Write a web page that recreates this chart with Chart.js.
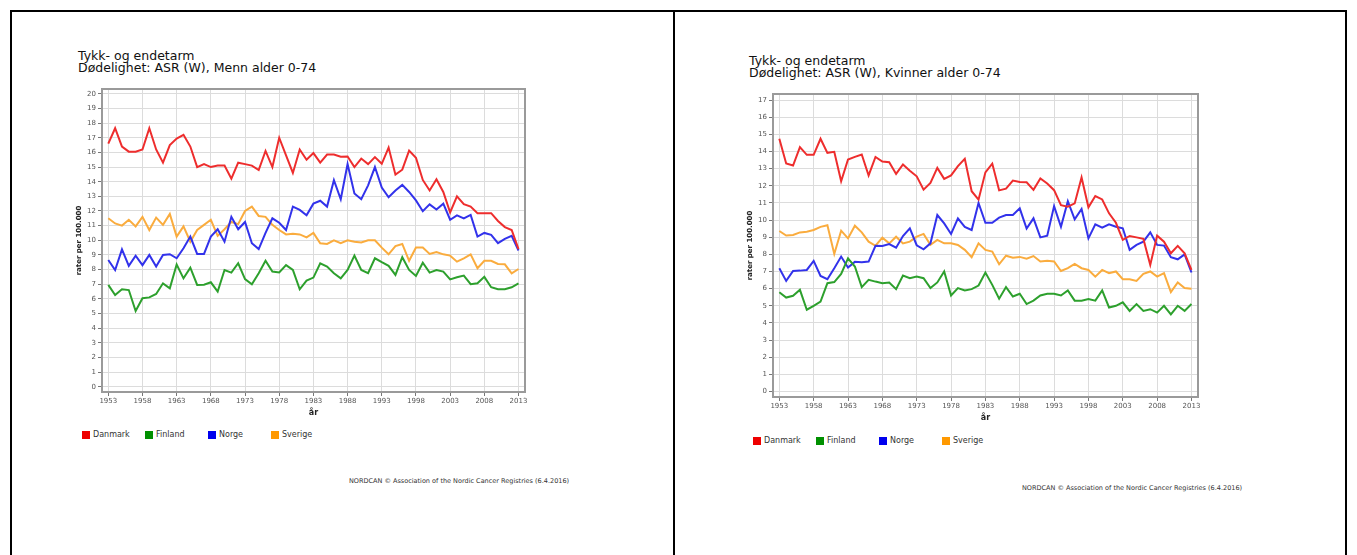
<!DOCTYPE html>
<html>
<head>
<meta charset="utf-8">
<script src="https://cdn.jsdelivr.net/npm/chart.js@4.4.1/dist/chart.umd.min.js"></script>
<style>
  html, body { margin: 0; padding: 0; background: #fff; }
  body { width: 1357px; height: 555px; position: relative; overflow: hidden; font-family: "DejaVu Sans", Verdana, sans-serif; }
  .frame { position: absolute; left: 10px; top: 10px; width: 1337px; height: 600px; border: 2px solid #000; box-sizing: border-box; }
  .divider { position: absolute; left: 673px; top: 10px; width: 2px; height: 600px; background: #000; }
  .title { position: absolute; font-size: 12.5px; line-height: 12px; color: #111; white-space: nowrap; }
  .legend { position: absolute; font-size: 8px; color: #333; white-space: nowrap; }
  .legend span.sw { position: absolute; width: 8px; height: 8px; }
  .legend span.tx { position: absolute; line-height: 8px; }
  .footer { position: absolute; font-size: 6.5px; color: #333; white-space: nowrap; line-height: 8px; }
  canvas { position: absolute; }
</style>
</head>
<body>
<div class="frame"></div>
<div class="divider"></div>

<div class="title" style="left:78px; top:50px;">Tykk- og endetarm<br>Dødelighet: ASR (W), Menn alder 0-74</div>
<div class="title" style="left:749px; top:55px;">Tykk- og endetarm<br>Dødelighet: ASR (W), Kvinner alder 0-74</div>

<canvas id="cMen" width="470" height="342" style="left:70px; top:80px;"></canvas>
<canvas id="cWomen" width="472" height="342" style="left:741px; top:85px;"></canvas>

<div id="legMen" class="legend" style="left:82px; top:431px;"></div>
<div id="legWomen" class="legend" style="left:753px; top:437px;"></div>

<div class="footer" style="left:349px; top:477px;">NORDCAN © Association of the Nordic Cancer Registries (6.4.2016)</div>
<div class="footer" style="left:1022px; top:484px;">NORDCAN © Association of the Nordic Cancer Registries (6.4.2016)</div>

<script>
// ---- Data ----
const years = [];
for (let y = 1953; y <= 2013; y++) years.push(y);

const countries = ["Danmark", "Finland", "Norge", "Sverige"];
const lineColors = ["rgb(238,45,45)", "rgb(45,160,45)", "rgb(50,50,235)", "rgb(250,172,62)"];
const swatchColors = ["#ee0000", "#009000", "#0000ee", "#ff9900"];

const xTicks = [1953, 1958, 1963, 1968, 1973, 1978, 1983, 1988, 1993, 1998, 2003, 2008, 2013];
const yTicksMen = [0,1,2,3,4,5,6,7,8,9,10,11,12,13,14,15,16,17,18,19,20];
const yTicksWomen = [0,1,2,3,4,5,6,7,8,9,10,11,12,13,14,15,16,17];

// Menn
const danmarkMen = [16.6,17.65,16.4,16.05,16.05,16.2,17.65,16.2,15.3,16.5,16.95,17.2,16.4,15.0,15.2,15.0,15.1,15.1,14.2,15.3,
  15.2,15.1,14.8,16.1,15.0,17.0,15.8,14.6,16.2,15.5,15.95,15.3,15.85,15.85,15.7,15.72,15.0,15.58,15.2,15.68,
  15.22,16.33,14.48,14.82,16.12,15.63,14.12,13.4,14.17,13.3,11.9,13.0,12.46,12.3,11.85,11.85,11.85,11.32,10.9,10.7,9.4];
const finlandMen = [6.95,6.26,6.65,6.6,5.17,6.04,6.1,6.33,7.06,6.72,8.34,7.4,8.13,6.95,6.97,7.13,6.5,7.97,7.79,8.43,
  7.35,7.0,7.75,8.6,7.86,7.8,8.3,7.97,6.65,7.24,7.45,8.43,8.2,7.75,7.4,7.97,8.95,7.97,7.75,8.77,
  8.5,8.25,7.63,8.84,7.97,7.56,8.47,7.79,7.97,7.86,7.33,7.47,7.59,7.0,7.06,7.5,6.79,6.65,6.65,6.79,7.06];
const norgeMen = [8.65,7.97,9.38,8.25,8.95,8.3,9.0,8.2,9.0,9.05,8.77,9.45,10.25,9.07,9.07,10.25,10.75,9.9,11.6,10.75,
  11.25,9.8,9.4,10.5,11.5,11.2,10.7,12.3,12.07,11.7,12.5,12.7,12.3,14.1,12.8,15.2,13.2,12.8,13.75,15.0,
  13.6,12.94,13.4,13.78,13.3,12.72,11.98,12.45,12.1,12.5,11.4,11.7,11.5,11.73,10.25,10.5,10.37,9.8,10.1,10.3,9.3];
const sverigeMen = [11.5,11.15,11.0,11.4,10.95,11.6,10.7,11.55,11.05,11.8,10.25,10.95,9.9,10.7,11.05,11.4,10.3,10.75,11.25,11.1,
  12.0,12.3,11.66,11.6,11.05,10.7,10.4,10.45,10.4,10.2,10.5,9.8,9.75,10.0,9.8,10.0,9.9,9.85,10.0,10.0,
  9.5,9.04,9.6,9.75,8.6,9.5,9.5,9.07,9.2,9.04,8.95,8.54,8.77,9.04,8.09,8.6,8.6,8.38,8.36,7.74,8.04];

// Kvinner
const danmarkWomen = [14.74,13.3,13.18,14.25,13.8,13.8,14.74,13.92,13.98,12.26,13.53,13.68,13.82,12.6,13.68,13.41,13.37,12.69,13.24,12.88,
  12.55,11.77,12.16,13.04,12.4,12.6,13.14,13.57,11.68,11.19,12.78,13.29,11.73,11.83,12.3,12.22,12.2,11.76,12.42,12.13,
  11.74,10.87,10.78,10.97,12.48,10.74,11.4,11.2,10.39,9.84,8.84,9.07,8.99,8.9,7.38,9.09,8.74,8.06,8.49,8.06,7.09];
const finlandWomen = [5.79,5.48,5.58,5.93,4.77,5.0,5.25,6.32,6.38,6.86,7.77,7.29,6.09,6.51,6.41,6.32,6.36,5.97,6.76,6.61,
  6.71,6.61,6.03,6.36,7.0,5.6,6.03,5.89,5.97,6.18,6.94,6.22,5.41,6.09,5.54,5.7,5.1,5.3,5.6,5.7,
  5.7,5.6,5.9,5.3,5.3,5.4,5.3,5.9,4.9,5.0,5.2,4.7,5.1,4.7,4.8,4.6,5.0,4.5,5.0,4.7,5.1];
const norgeWomen = [7.19,6.45,7.03,7.05,7.09,7.62,6.74,6.55,7.19,7.87,7.23,7.56,7.54,7.58,8.5,8.49,8.6,8.39,9.07,9.52,
  8.53,8.29,8.64,10.29,9.8,9.19,10.1,9.6,9.42,11.0,9.84,9.84,10.14,10.29,10.29,10.68,9.5,10.1,8.99,9.09,
  10.81,9.61,11.1,10.04,10.64,8.93,9.75,9.55,9.75,9.61,9.52,8.26,8.55,8.74,9.28,8.55,8.51,7.83,7.71,8.0,6.94];
const sverigeWomen = [9.36,9.1,9.13,9.28,9.32,9.42,9.6,9.7,8.02,9.38,8.93,9.67,9.28,8.74,8.5,8.97,8.64,9.03,8.64,8.74,
  9.03,9.19,8.55,8.84,8.64,8.64,8.55,8.26,7.83,8.64,8.26,8.16,7.42,7.92,7.8,7.85,7.74,7.9,7.58,7.62,
  7.58,7.03,7.19,7.44,7.19,7.09,6.7,7.09,6.9,7.0,6.55,6.55,6.45,6.86,7.0,6.7,6.9,5.8,6.36,6.03,5.99];

// ---- Chart building ----
const FONT = "'DejaVu Sans', Verdana, sans-serif";

const frameBox = {
  id: 'frameBox',
  afterDraw(chart) {
    const a = chart.chartArea, ctx = chart.ctx;
    ctx.save();
    ctx.strokeStyle = '#9a9a9a';
    ctx.lineWidth = 2;
    ctx.strokeRect(a.left, a.top, a.right - a.left, a.bottom - a.top);
    ctx.restore();
  }
};

function makeChart(id, seriesList, yTicks, yMin, yMax) {
  const datasets = seriesList.map((vals, i) => ({
    label: countries[i],
    data: years.map((y, k) => ({x: y, y: vals[k]})),
    borderColor: lineColors[i],
    backgroundColor: lineColors[i],
    borderWidth: 2,
    pointRadius: 0,
    tension: 0,
    fill: false
  }));
  return new Chart(document.getElementById(id), {
    type: 'line',
    data: { datasets },
    options: {
      responsive: false,
      animation: false,
      devicePixelRatio: 1,
      layout: { padding: { top: 9, right: 15, left: 0, bottom: 0 } },
      plugins: { legend: { display: false }, tooltip: { enabled: false }, title: { display: false } },
      scales: {
        x: {
          type: 'linear',
          min: 1952.08,
          max: 2013.95,
          afterBuildTicks: s => { s.ticks = xTicks.map(v => ({value: v})); },
          afterFit: s => { s.height = 30; },
          ticks: { color: '#555', font: { family: FONT, size: 7 }, padding: 1, maxRotation: 0, autoSkip: false,
                   callback: v => String(v) },
          grid: { color: '#dcdcdc', lineWidth: 1, tickLength: 4, tickColor: '#777', drawTicks: true },
          border: { display: true, color: '#777', width: 2 },
          title: { display: true, text: 'år', color: '#222', font: { family: FONT, size: 8, weight: 'bold' }, padding: { top: 0, bottom: 4 } }
        },
        y: {
          type: 'linear',
          min: yMin,
          max: yMax,
          afterBuildTicks: s => { s.ticks = yTicks.map(v => ({value: v})); },
          afterFit: s => { s.width = 32; },
          ticks: { color: '#555', font: { family: FONT, size: 7 }, padding: 2, autoSkip: false, callback: v => String(v) },
          grid: { color: '#dcdcdc', lineWidth: 1, tickLength: 4, tickColor: '#777', drawTicks: true },
          border: { display: true, color: '#777', width: 2 },
          title: { display: true, text: 'rater per 100.000', color: '#222', font: { family: FONT, size: 7, weight: 'bold' }, padding: { top: 5, bottom: 0 } }
        }
      }
    },
    plugins: [frameBox]
  });
}

makeChart('cMen', [danmarkMen, finlandMen, norgeMen, sverigeMen], yTicksMen, -0.362, 20.33);
makeChart('cWomen', [danmarkWomen, finlandWomen, norgeWomen, sverigeWomen], yTicksWomen, -0.32, 17.35);

// ---- Legends ----
function buildLegend(id) {
  const el = document.getElementById(id);
  countries.forEach((c, i) => {
    const sw = document.createElement('span');
    sw.className = 'sw';
    sw.style.left = (i * 63) + 'px';
    sw.style.top = '0px';
    sw.style.background = swatchColors[i];
    const tx = document.createElement('span');
    tx.className = 'tx';
    tx.style.left = (i * 63 + 11) + 'px';
    tx.style.top = '0px';
    tx.textContent = c;
    el.appendChild(sw);
    el.appendChild(tx);
  });
}
buildLegend('legMen');
buildLegend('legWomen');
</script>
</body>
</html>
